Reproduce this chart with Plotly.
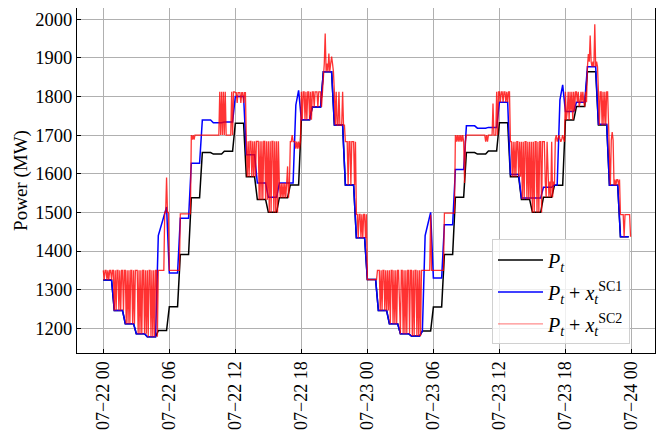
import pandas as pd
import plotly.graph_objects as go

START = "2024-07-22 00:00"

# Hourly base power P_t (MW)
black_hourly = [1325, 1246, 1212, 1186, 1178, 1194, 1256, 1391, 1538, 1655, 1651, 1658,
                1731, 1592, 1533, 1500, 1538, 1571, 1740, 1773, 1864, 1726, 1571, 1434,
                1326, 1246, 1212, 1186, 1180, 1193, 1255, 1391, 1539, 1655, 1651, 1659,
                1732, 1592, 1533, 1500, 1539, 1570, 1739, 1774, 1864, 1726, 1570, 1437]

# P_t + x^SC1, hourly, with quarter-hour values for the hours that ramp
blue_hourly = [1325, 1246, 1212, 1186, 1178, 1440, 1343, 1485, 1627, 1739, 1732, 1734,
               1800, 1649, 1576, 1539, 1576, 1576, 1740, 1773, 1864, 1726, 1571, 1434,
               1326, 1246, 1212, 1186, 1180, 1193, 1330, 1468, 1611, 1724, 1718, 1720,
               1785, 1598, 1537, 1537, 1565, 1571, 1761, 1785, 1877, 1728, 1570, 1437]
blue_quarter = {5: [1440, 1465, 1490, 1514], 17: [1576, 1576, 1778, 1816],
                29: [1193, 1440, 1470, 1500], 41: [1571, 1571, 1791, 1830]}

# P_t + x^SC2 at 5-minute resolution: per hour, the levels it visits and which level each 5-min slot takes
red_levels = [
    [1325, 1350], [1246, 1350], [1212, 1350], [1186, 1350], [1178, 1350],
    [1350, 1500, 1590], [1350], [1496], [1700, 1688], [1700], [1700, 1812], [1700, 1812],
    [1810, 1783], [1592, 1684], [1533, 1684], [1500, 1684], [1538, 1576, 1619], [1683, 1700, 1665],
    [1740, 1812], [1773, 1812], [1864, 1885, 1963, 1911, 1903], [1726, 1812], [1571, 1683], [1434, 1495],
    [1326, 1350], [1246, 1350], [1212, 1350], [1186, 1350], [1180, 1350],
    [1350, 1494], [1350], [1498], [1683, 1700, 1576], [1700], [1700, 1683], [1700, 1782, 1812],
    [1785, 1812], [1592, 1683], [1534, 1683], [1500, 1683], [1539, 1580, 1683], [1690, 1700, 1683, 1571],
    [1739, 1812, 1761], [1785, 1812, 1774], [1877, 1890, 1910, 1958, 1987], [1726, 1812],
    [1570, 1687, 1585, 1708], [1437, 1494],
]
red_patterns = [
    "101101011011", "010110101101", "101010110101", "110101011010", "101101010110",
    "000000011211", "000000000000", "000000000000", "010100000000", "000000000000", "000000010101", "010000001011",
    "001000100100", "101011010101", "110101011010", "101011010101", "101010101201", "001000202020",
    "101101011010", "110111011101", "012010301410", "101001000100", "111011011101", "110110101101",
    "000000000001", "110101101010", "101101010110", "011010101101", "101011010101",
    "000000000100", "000000000000", "000000000000", "101010101020", "000000000000", "000000000101", "000001000202",
    "101101101011", "110101011010", "101011010101", "010110101101", "221021010201", "301201020102",
    "102101210121", "101201010210", "021310104010", "101101010110",
    "101310202202", "111101111110",
]

tick_hours = [0, 6, 12, 18, 24, 30, 36, 42, 48]
tick_text = ["07\u221222 00", "07\u221222 06", "07\u221222 12", "07\u221222 18",
             "07\u221223 00", "07\u221223 06", "07\u221223 12", "07\u221223 18", "07\u221224 00"]
y_ticks = [1200, 1300, 1400, 1500, 1600, 1700, 1800, 1900, 2000]

t0 = pd.Timestamp(START)

# quarter-hour series
q_times, black_q, blue_q = [], [], []
for h in range(48):
    for k in range(4):
        q_times.append(t0 + pd.Timedelta(minutes=60 * h + 15 * k))
        black_q.append(black_hourly[h])
        blue_q.append(blue_quarter[h][k] if h in blue_quarter else blue_hourly[h])

r_times, red_v = [], []
for h in range(48):
    for k in range(12):
        r_times.append(t0 + pd.Timedelta(minutes=60 * h + 5 * k))
        red_v.append(red_levels[h][int(red_patterns[h][k])])

FONT = "Liberation Serif"
SC2_NAME = "<i>P<sub>t</sub></i> + <i>x<sub>t</sub></i><sup>SC2</sup>"

fig = go.Figure()
fig.add_trace(go.Scatter(x=q_times, y=black_q, mode="lines", name="<i>P<sub>t</sub></i>",
                         legendgroup="a", line=dict(color="black", width=1.5)))
fig.add_trace(go.Scatter(x=q_times, y=blue_q, mode="lines",
                         name="<i>P<sub>t</sub></i> + <i>x<sub>t</sub></i><sup>SC1</sup>",
                         legendgroup="b", line=dict(color="blue", width=1.5)))
fig.add_trace(go.Scatter(x=r_times, y=red_v, mode="lines", name=SC2_NAME, showlegend=False,
                         legendgroup="c", line=dict(color="rgba(255,0,0,0.8)", width=1.3)))
# legend entry for SC2 drawn in the lighter, translucent tone of a single line
fig.add_trace(go.Scatter(x=[None], y=[None], mode="lines", name=SC2_NAME,
                         legendgroup="c", line=dict(color="rgba(255,0,0,0.45)", width=1.3)))

# the page body adds an 8px offset, so the figure is 8px smaller than the window
fig.update_layout(
    width=656, height=431,
    margin=dict(l=69, r=9, t=0, b=86),
    plot_bgcolor="white", paper_bgcolor="white",
    font=dict(family=FONT, size=18, color="black"),
    showlegend=True,
    legend=dict(x=0.718, y=0.025, xanchor="left", yanchor="bottom",
                bgcolor="rgba(255,255,255,0.8)", bordercolor="#d0d0d0", borderwidth=1,
                font=dict(family=FONT, size=20), itemwidth=45, traceorder="grouped",
                tracegroupgap=3),
)
fig.update_xaxes(
    type="date", automargin=False,
    range=[t0 - pd.Timedelta(hours=2.39), t0 + pd.Timedelta(hours=50.14)],
    tickvals=[t0 + pd.Timedelta(hours=h) for h in tick_hours], ticktext=tick_text,
    tickangle=-90, tickfont=dict(family=FONT, size=18),
    showgrid=True, gridcolor="#b0b0b0", gridwidth=1,
    showline=True, linecolor="black", linewidth=1.2, mirror=True,
    ticks="inside", ticklen=4, tickcolor="black", zeroline=False,
)
fig.update_yaxes(
    automargin=False,
    range=[1136, 2029], tickvals=y_ticks,
    tickfont=dict(family=FONT, size=18.5),
    title=dict(text="Power (MW)", font=dict(family=FONT, size=19), standoff=2),
    showgrid=True, gridcolor="#b0b0b0", gridwidth=1,
    showline=True, linecolor="black", linewidth=1.2, mirror=True,
    ticks="inside", ticklen=4, tickcolor="black", zeroline=False,
)

fig.write_html("out.html")
